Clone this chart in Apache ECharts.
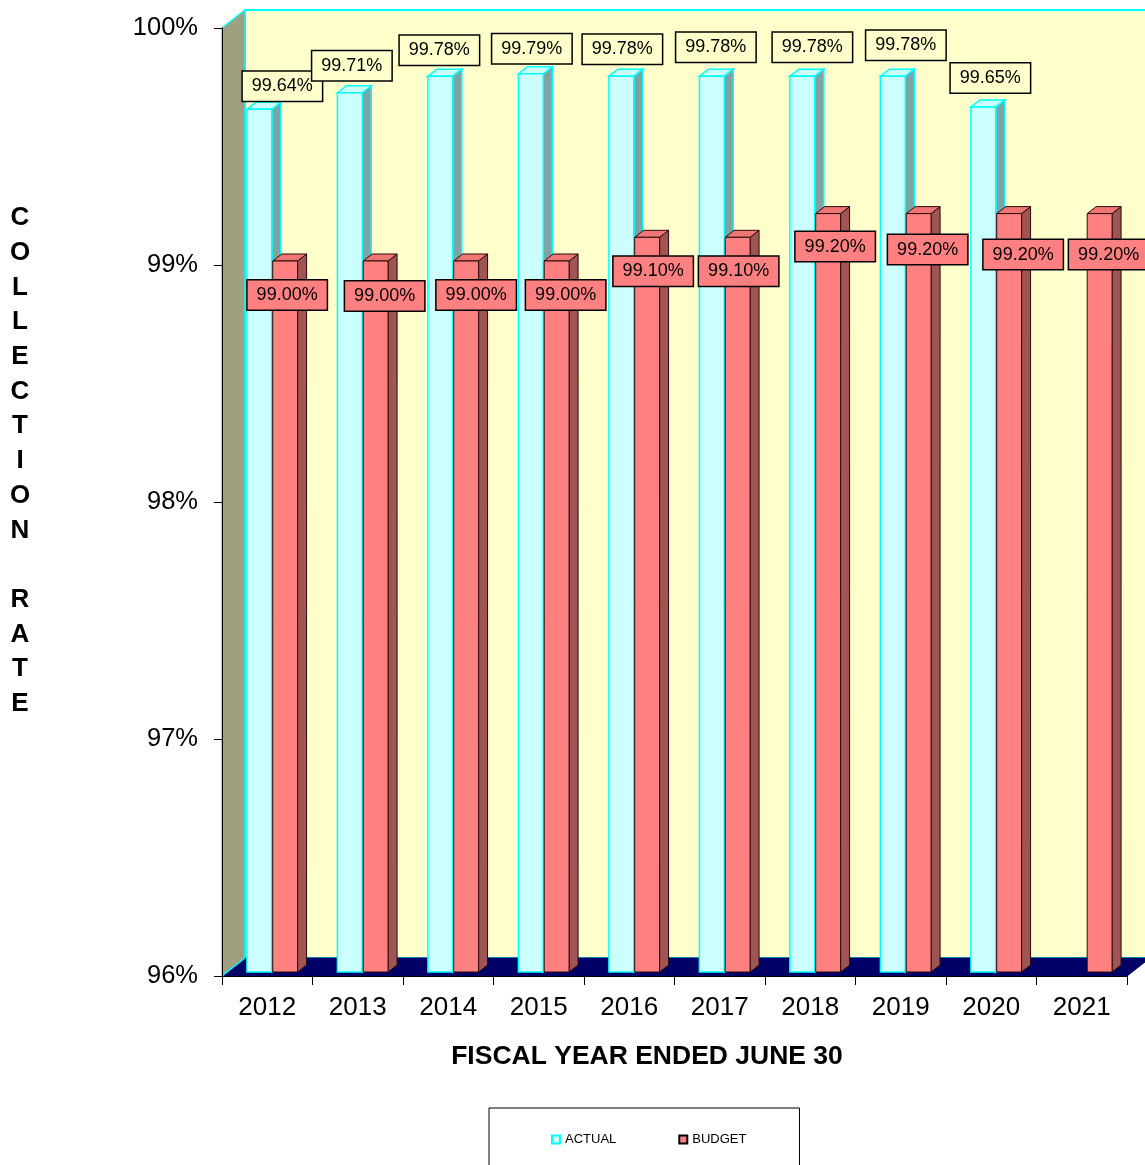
<!DOCTYPE html>
<html>
<head>
<meta charset="utf-8">
<title>Collection Rate</title>
<script src="https://cdn.jsdelivr.net/npm/echarts@6/dist/echarts.min.js"></script>
<style>
  html, body { margin: 0; padding: 0; background: #ffffff; }
  #chart { width: 1145px; height: 1165px; }
</style>
</head>
<body>
<div id="chart"></div>
<script>
// ---- data ----
const years = ['2012', '2013', '2014', '2015', '2016', '2017', '2018', '2019', '2020', '2021'];
const actualRate = [99.64, 99.71, 99.78, 99.79, 99.78, 99.78, 99.78, 99.78, 99.65, null];
const budgetRate = [99.00, 99.00, 99.00, 99.00, 99.10, 99.10, 99.20, 99.20, 99.20, 99.20];
const rateTicks = [96, 97, 98, 99, 100];

// ---- label placement (box centre offset from the bar's front-top, px) ----
const actualLabelNudge = [[23, -23], [2, -27], [-1, -26], [1, -25], [1, -27], [4, -29], [10, -29], [13, -31], [7, -29]];
const budgetLabelNudge = [[2, 34], [9, 35], [10, 34], [9, 34], [6, 34], [1, 34], [7, 33], [9, 36], [14, 41], [9, 41]];

const FONT = "'Liberation Sans', Arial, Helvetica, sans-serif";
const Y_MIN = rateTicks[0];
const Y_MAX = rateTicks[rateTicks.length - 1];

// 3-D projection offsets
const WALL_DX = 23, WALL_DY = -18;   // full depth of the plot box
const BAR_SHIFT = [5, -4];           // bars stand slightly behind the front plane
const BAR_DEPTH = [9, -7];           // depth of each bar

const actualStyle = {
  from: 0.22, to: 0.495,
  front: '#CCFFFF', top: '#CCFFFF', side: '#7FA3A3', edge: '#00FFFF', lw: 1.5,
  z: 1, labelBg: '#FFFFCC', nudge: actualLabelNudge
};
const budgetStyle = {
  from: 0.505, to: 0.78,
  front: '#FF8080', top: '#F07676', side: '#A05555', edge: '#2A0A0A', lw: 1,
  z: 2, labelBg: '#FF8080', nudge: budgetLabelNudge
};

function barRenderer(s) {
  return function (params, api) {
    const i = api.value(0);
    const v = api.value(1);
    if (isNaN(v)) return;
    const band = api.size([1, 0])[0];
    const top = api.coord([i, v]);
    const base = api.coord([i, Y_MIN]);
    const left = top[0] - band / 2;
    const x0 = left + band * s.from + BAR_SHIFT[0];
    const x1 = left + band * s.to + BAR_SHIFT[0];
    const yT = top[1] + BAR_SHIFT[1];
    const yB = base[1] + BAR_SHIFT[1];
    const dx = BAR_DEPTH[0], dy = BAR_DEPTH[1];
    const n = s.nudge[i] || [0, 0];
    return {
      type: 'group',
      children: [
        { type: 'polygon', z2: s.z,
          shape: { points: [[x1, yT], [x1 + dx, yT + dy], [x1 + dx, yB + dy], [x1, yB]] },
          style: { fill: s.side, stroke: s.edge, lineWidth: s.lw } },
        { type: 'polygon', z2: s.z,
          shape: { points: [[x0, yT], [x0 + dx, yT + dy], [x1 + dx, yT + dy], [x1, yT]] },
          style: { fill: s.top, stroke: s.edge, lineWidth: s.lw } },
        { type: 'rect', z2: s.z,
          shape: { x: x0, y: yT, width: x1 - x0, height: yB - yT },
          style: { fill: s.front, stroke: s.edge, lineWidth: s.lw } },
        { type: 'text', z2: 20,
          x: (x0 + x1) / 2 + n[0], y: yT + n[1],
          style: {
            text: v.toFixed(2) + '%',
            align: 'center', verticalAlign: 'middle',
            fontSize: 18, fontFamily: FONT, fill: '#000000',
            lineHeight: 19,
            backgroundColor: s.labelBg, borderColor: '#000000', borderWidth: 1.5,
            padding: [5, 9, 5, 9]
          } }
      ]
    };
  };
}

// back wall, side wall and floor of the 3-D box
function wallRenderer(params) {
  const cs = params.coordSys;
  const x = cs.x, y = cs.y, w = cs.width, h = cs.height;
  return {
    type: 'group',
    children: [
      { type: 'rect', shape: { x: x + WALL_DX, y: y + WALL_DY, width: w, height: h },
        style: { fill: '#FFFFCC', stroke: '#00FFFF', lineWidth: 2 } },
      { type: 'polygon',
        shape: { points: [[x, y], [x + WALL_DX, y + WALL_DY], [x + WALL_DX, y + h + WALL_DY], [x, y + h]] },
        style: { fill: '#A0A080', stroke: '#00FFFF', lineWidth: 1.5 } },
      { type: 'polygon',
        shape: { points: [[x, y + h], [x + WALL_DX, y + h + WALL_DY], [x + w + WALL_DX, y + h + WALL_DY], [x + w, y + h]] },
        style: { fill: '#000066', stroke: '#000066', lineWidth: 1 } },
      { type: 'line', shape: { x1: x, y1: y + h, x2: x + WALL_DX, y2: y + h + WALL_DY },
        style: { stroke: '#00FFFF', lineWidth: 1.5 } }
    ]
  };
}

const chart = echarts.init(document.getElementById('chart'), null, { renderer: 'canvas' });

chart.setOption({
  animation: false,
  backgroundColor: '#ffffff',
  grid: { left: 222, right: 18, top: 28, bottom: 189, containLabel: false },
  xAxis: {
    type: 'category',
    data: years,
    z: 5,
    axisLine: { show: true, lineStyle: { color: '#000000', width: 1 } },
    axisTick: { show: true, length: 9, interval: 0, lineStyle: { color: '#000000' } },
    axisLabel: { fontSize: 26, fontFamily: FONT, color: '#000000', margin: 19, interval: 0 },
    splitLine: { show: false }
  },
  yAxis: {
    type: 'value',
    min: Y_MIN, max: Y_MAX, interval: 1,
    z: 5,
    axisLine: { show: true, lineStyle: { color: '#000000', width: 1 } },
    axisTick: { show: true, length: 8, lineStyle: { color: '#000000' } },
    axisLabel: { fontSize: 25.5, fontFamily: FONT, color: '#000000', margin: 24,
                 formatter: function (v) { return v + '%'; } },
    splitLine: { show: false }
  },
  legend: {
    left: 489, top: 1108,
    orient: 'horizontal',
    padding: [25, 53, 40, 62],
    borderColor: '#000000', borderWidth: 1,
    itemWidth: 8, itemHeight: 8, itemGap: 62,
    selectedMode: false,
    textStyle: { fontSize: 13, fontFamily: FONT, color: '#000000' },
    data: [
      { name: 'ACTUAL', icon: 'rect', itemStyle: { color: '#CCFFFF', borderColor: '#00FFFF', borderWidth: 2 } },
      { name: 'BUDGET', icon: 'rect', itemStyle: { color: '#FF8080', borderColor: '#000000', borderWidth: 2 } }
    ]
  },
  graphic: [
    { type: 'text', x: 647, y: 1057,
      style: { text: 'FISCAL YEAR ENDED JUNE 30', align: 'center', verticalAlign: 'middle',
               fontSize: 26.5, fontWeight: 'bold', fontFamily: FONT, fill: '#000000' } },
    { type: 'text', x: 20, y: 461,
      style: { text: 'COLLECTION RATE'.split('').join('\n'), align: 'center', verticalAlign: 'middle',
               fontSize: 26, fontWeight: 'bold', fontFamily: FONT, fill: '#000000', lineHeight: 34.7 } }
  ],
  series: [
    { type: 'custom', name: 'walls', z: 1, silent: true,
      data: [[0, Y_MIN]], encode: { x: 0, y: 1 },
      renderItem: wallRenderer },
    { type: 'custom', name: 'ACTUAL', z: 2,
      itemStyle: { color: '#CCFFFF' },
      data: actualRate.map(function (v, i) { return v == null ? null : [i, v]; }).filter(Boolean),
      encode: { x: 0, y: 1 },
      renderItem: barRenderer(actualStyle) },
    { type: 'custom', name: 'BUDGET', z: 2,
      itemStyle: { color: '#FF8080' },
      data: budgetRate.map(function (v, i) { return [i, v]; }),
      encode: { x: 0, y: 1 },
      renderItem: barRenderer(budgetStyle) }
  ]
});
</script>
</body>
</html>
